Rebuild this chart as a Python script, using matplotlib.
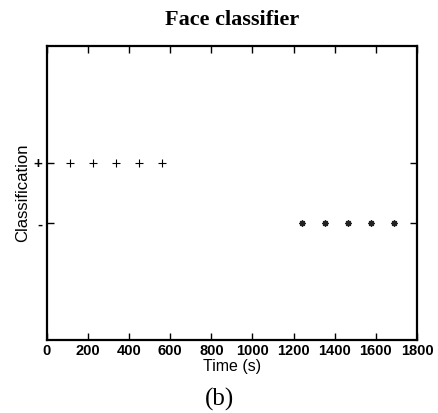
import matplotlib.pyplot as plt

# detections: positive before ~600 s, negative after ~1200 s
pos_times = [113, 225, 337, 449, 561]
neg_times = [1240, 1352, 1464, 1576, 1688]
pos_value = 1
neg_value = 0
ytick_labels = ["-", "+"]
xticks = list(range(0, 1801, 200))

fig = plt.figure(figsize=(4.38, 4.13), dpi=100)
ax = fig.add_axes([0.107, 0.177, 0.845, 0.712])

ax.plot(pos_times, [pos_value] * len(pos_times), linestyle="none",
        marker="+", markersize=6, markeredgewidth=0.8, color="black")
ax.plot(neg_times, [neg_value] * len(neg_times), linestyle="none",
        marker=(8, 2, 0), markersize=4.5, markeredgewidth=1.0, color="#222222")

ax.set_xlim(0, 1800)
ax.set_ylim(-1.95, 2.95)
ax.set_xticks(xticks)
ax.set_xticklabels([str(t) for t in xticks], fontfamily="Liberation Sans",
                   fontweight="bold", fontsize=10.5)
ax.set_yticks([neg_value, pos_value])
ax.set_yticklabels(ytick_labels, fontfamily="Liberation Sans",
                   fontweight="bold", fontsize=11)
ax.tick_params(direction="in", top=True, right=True, length=5, width=1, pad=3)
for s in ax.spines.values():
    s.set_linewidth(1.6)

ax.set_xlabel("Time (s)", fontfamily="Liberation Sans", fontsize=11.5, labelpad=1)
ax.set_ylabel("Classification", fontfamily="Liberation Sans", fontsize=12, labelpad=3)
ax.set_title("Face classifier", fontfamily="Liberation Serif", fontweight="bold",
             fontsize=16, pad=15)
fig.text(0.5, 0.033, "(b)", ha="center", va="center",
         fontfamily="Liberation Serif", fontsize=18)

fig.savefig("out.png", dpi=100)
